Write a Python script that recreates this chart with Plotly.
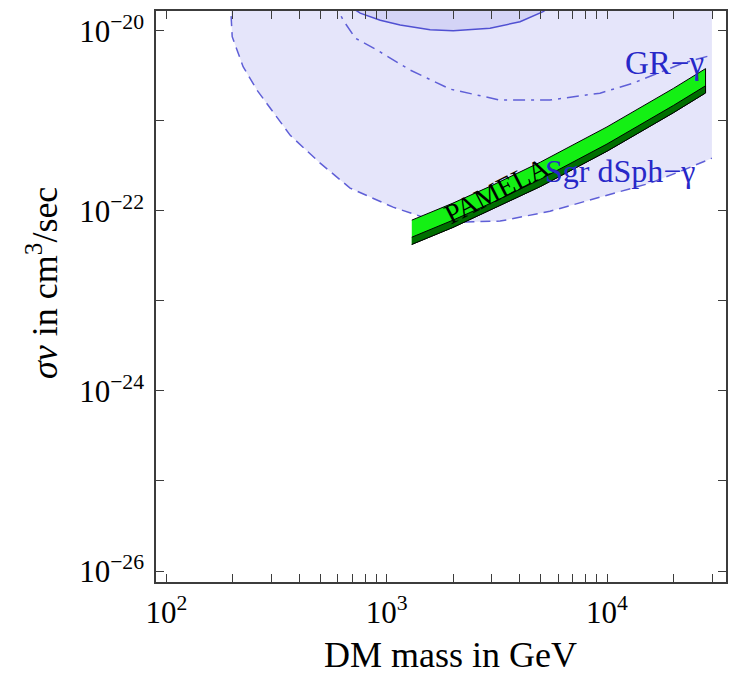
import plotly.graph_objects as go

# Sgr dSph - gamma bound (dashed), shaded above
sgr_mass = [195, 199, 223, 258, 365, 499, 682, 1069, 1466, 2153, 3273, 5508, 9290, 15670, 22130, 29920]
sgr_sv = [2.19e-20, 8.6e-21, 4.0e-21, 2.19e-21, 6.9e-22, 3.39e-22, 1.79e-22, 1.10e-22, 8.5e-23, 7.5e-23,
          7.7e-23, 9.9e-23, 1.42e-22, 2.03e-22, 2.83e-22, 3.85e-22]

# GR - gamma bound (dash-dot)
gr_mass = [571, 635, 720, 905, 1279, 1942, 3273, 5508, 9290, 13120, 22130, 29920]
gr_sv = [2.19e-20, 1.31e-20, 8.3e-21, 6.1e-21, 3.66e-21, 2.25e-21, 1.70e-21, 1.70e-21, 2.03e-21, 2.62e-21,
         4.38e-21, 5.37e-21]

# solid bound at the top
top_mass = [648, 758, 935, 1151, 1574, 2004, 2944, 4029, 5126, 5808]
top_sv = [2.03e-20, 1.57e-20, 1.31e-20, 1.16e-20, 1.03e-20, 1.0e-20, 1.07e-20, 1.26e-20, 1.63e-20, 2.03e-20]

# PAMELA region
pamela_mass = [1300, 2000, 3000, 5000, 10000, 20000, 28000]
pamela_hi = [7.89e-23, 1.22e-22, 1.91e-22, 3.49e-22, 8.57e-22, 2.29e-21, 3.80e-21]
pamela_lo = [4.24e-23, 6.55e-23, 1.03e-22, 1.87e-22, 4.60e-22, 1.23e-21, 2.04e-21]
pamela_dark = [5.10e-23, 7.89e-23, 1.23e-22, 2.25e-22, 5.53e-22, 1.48e-21, 2.45e-21]

x_ticks = [100, 200, 300, 400, 500, 600, 700, 800, 900, 1000, 2000, 3000, 4000, 5000, 6000, 7000, 8000, 9000,
           10000, 20000, 30000]
x_labels = ["10<sup>2</sup>"] + [""] * 8 + ["10<sup>3</sup>"] + [""] * 8 + ["10<sup>4</sup>", "", ""]
y_ticks = [1e-26, 1e-25, 1e-24, 1e-23, 1e-22, 1e-21, 1e-20]
y_labels = ["10<sup>−26</sup>", "", "10<sup>−24</sup>", "", "10<sup>−22</sup>", "", "10<sup>−20</sup>"]

TOP = 5e-20
serif = "Liberation Serif"

fig = go.Figure()

# light shaded region above the dashed curve
fig.add_trace(go.Scatter(
    x=sgr_mass + [sgr_mass[-1], sgr_mass[0]],
    y=sgr_sv + [TOP, TOP],
    fill="toself", fillcolor="rgb(229,229,250)", line=dict(width=0), mode="lines",
    hoverinfo="skip"))

# darker region above solid curve
fig.add_trace(go.Scatter(
    x=top_mass + [top_mass[-1], top_mass[0]],
    y=top_sv + [TOP, TOP],
    fill="toself", fillcolor="rgb(212,212,246)", line=dict(width=0), mode="lines",
    hoverinfo="skip"))

fig.add_trace(go.Scatter(x=top_mass, y=top_sv, mode="lines",
                         line=dict(color="rgb(80,80,210)", width=1.5)))
fig.add_trace(go.Scatter(x=sgr_mass, y=sgr_sv, mode="lines",
                         line=dict(color="rgb(95,95,215)", width=1.5, dash="10px,6px")))
fig.add_trace(go.Scatter(x=gr_mass, y=gr_sv, mode="lines",
                         line=dict(color="rgb(95,95,215)", width=1.5, dash="12px,6px,3px,6px")))

# PAMELA band
fig.add_trace(go.Scatter(
    x=pamela_mass + pamela_mass[::-1], y=pamela_hi + pamela_lo[::-1],
    fill="toself", fillcolor="rgb(20,240,20)", line=dict(color="black", width=1), mode="lines"))
fig.add_trace(go.Scatter(
    x=pamela_mass + pamela_mass[::-1], y=pamela_dark + pamela_lo[::-1],
    fill="toself", fillcolor="rgb(0,110,0)", line=dict(color="black", width=1), mode="lines"))

fig.add_annotation(x=3.50, y=-21.77, text="PAMELA", showarrow=False, textangle=-27,
                   font=dict(family=serif, size=28, color="black"))
fig.add_annotation(x=4.259, y=-20.36, text="GR−γ", showarrow=False,
                   font=dict(family=serif, size=33, color="rgb(40,40,200)"))
fig.add_annotation(x=4.059, y=-21.56, text="Sgr dSph−γ", showarrow=False,
                   font=dict(family=serif, size=32, color="rgb(40,40,200)"))

# axis titles
fig.add_annotation(xref="paper", yref="paper", x=0.516, y=-0.128, text="DM mass in GeV", showarrow=False,
                   xanchor="center", yanchor="middle", font=dict(family=serif, size=36, color="black"))
fig.add_annotation(xref="paper", yref="paper", x=-0.198, y=0.524, text="<i>σv</i> in cm<sup>3</sup>/sec",
                   showarrow=False, textangle=-90, xanchor="center", yanchor="middle",
                   font=dict(family=serif, size=36, color="black"))

axis_common = dict(showline=True, linecolor="rgb(60,60,60)", linewidth=1.5, mirror="ticks",
                   ticks="inside", ticklen=8, tickwidth=1, tickcolor="rgb(60,60,60)",
                   showgrid=False, zeroline=False, ticklabeloverflow="allow",
                   tickfont=dict(family=serif, size=31, color="black"))

fig.update_xaxes(type="log", range=[1.953, 4.54], tickvals=x_ticks, ticktext=x_labels,
                 ticklabelstandoff=2, **axis_common)
fig.update_yaxes(type="log", range=[-26.122, -19.78], tickvals=y_ticks, ticktext=y_labels,
                 ticklabelstandoff=4, **axis_common)

# page body adds an 8 px offset, so the figure is drawn 8 px smaller
fig.update_layout(width=728, height=681, margin=dict(l=148, r=10, t=3, b=107, autoexpand=False),
                  plot_bgcolor="white", paper_bgcolor="white", showlegend=False)

fig.write_html("out.html")
